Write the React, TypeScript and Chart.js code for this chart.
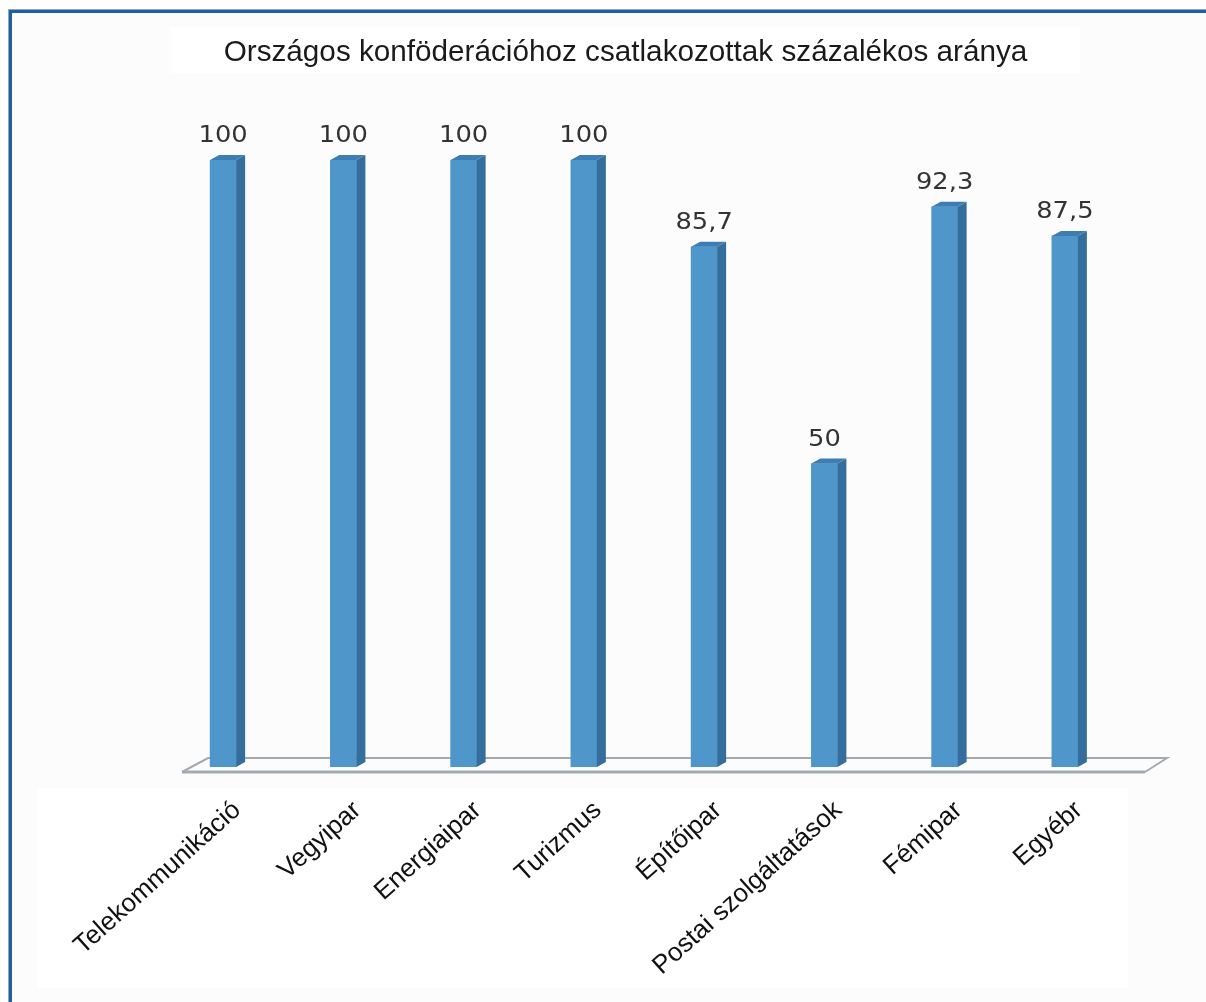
import React, { useEffect, useRef } from "react";
import { Chart, registerables } from "chart.js";

Chart.register(...registerables);

const categories = [
  "Telekommunikáció",
  "Vegyipar",
  "Energiaipar",
  "Turizmus",
  "Építőipar",
  "Postai szolgáltatások",
  "Fémipar",
  "Egyébr",
];
const values = [100, 100, 100, 100, 85.7, 50, 92.3, 87.5];
const titleText = "Országos konföderációhoz csatlakozottak százalékos aránya";

const FRONT = "#4f96ca";
const SIDE = "#356e9c";
const TOPC = "#3e7db3";
const DX = 9;
const DY = 5;

const fmt = (v: number) => String(v).replace(".", ",");

const pagePlugin = {
  id: "page",
  beforeDraw(chart: any) {
    const { ctx, width, height, chartArea } = chart;
    ctx.save();
    ctx.fillStyle = "#ffffff";
    ctx.fillRect(0, 0, width, height);
    ctx.fillStyle = "#fcfcfc";
    ctx.fillRect(11, 12, width, height);
    ctx.fillStyle = "#ffffff";
    ctx.fillRect(170, 27, 910, 46);
    ctx.fillRect(38, chartArea.bottom + 21, 1090, 200);
    ctx.strokeStyle = "#9aa3aa";
    ctx.lineWidth = 1;
    ctx.strokeRect(8.5, 9.5, width + 20, height + 20);
    ctx.strokeStyle = "#1d5fa9";
    ctx.lineWidth = 3;
    ctx.strokeRect(10.5, 11.5, width + 20, height + 20);
    ctx.restore();
  },
  beforeDatasetsDraw(chart: any) {
    const { ctx, chartArea } = chart;
    const { left, right, bottom } = chartArea;
    ctx.save();
    ctx.strokeStyle = "#a3abb0";
    ctx.lineJoin = "miter";
    ctx.lineWidth = 2;
    ctx.beginPath();
    ctx.moveTo(left + 19, bottom + 5);
    ctx.lineTo(left + 45, bottom - 9);
    ctx.lineTo(right + 42, bottom - 9);
    ctx.lineTo(right + 20, bottom + 5);
    ctx.stroke();
    ctx.lineWidth = 3;
    ctx.beginPath();
    ctx.moveTo(left + 19, bottom + 5);
    ctx.lineTo(right + 20, bottom + 5);
    ctx.stroke();
    ctx.restore();
  },
  afterDatasetsDraw(chart: any) {
    const { ctx } = chart;
    const meta = chart.getDatasetMeta(0);
    ctx.save();
    meta.data.forEach((bar: any, i: number) => {
      const { x, y, base, width } = bar.getProps(["x", "y", "base", "width"], true);
      const l = x - width / 2;
      const r = x + width / 2;
      ctx.fillStyle = SIDE;
      ctx.beginPath();
      ctx.moveTo(r, y);
      ctx.lineTo(r + DX, y - DY);
      ctx.lineTo(r + DX, base - DY);
      ctx.lineTo(r, base);
      ctx.closePath();
      ctx.fill();
      ctx.fillStyle = TOPC;
      ctx.beginPath();
      ctx.moveTo(l, y);
      ctx.lineTo(l + DX, y - DY);
      ctx.lineTo(r + DX, y - DY);
      ctx.lineTo(r, y);
      ctx.closePath();
      ctx.fill();
      ctx.save();
      ctx.translate(x, y - 18);
      ctx.scale(1.12, 1);
      ctx.fillStyle = "#333333";
      ctx.font = "23px 'DejaVu Sans'";
      ctx.textAlign = "center";
      ctx.textBaseline = "alphabetic";
      ctx.fillText(fmt(values[i]), 0, 0);
      ctx.restore();
    });
    ctx.restore();
  },
};

export default function App() {
  const ref = useRef<HTMLCanvasElement | null>(null);
  useEffect(() => {
    if (!ref.current) return;
    const chart = new Chart(ref.current, {
      type: "bar",
      data: {
        labels: categories,
        datasets: [
          {
            data: values,
            backgroundColor: FRONT,
            borderWidth: 0,
            barThickness: 26,
          },
        ],
      },
      options: {
        animation: false,
        responsive: false,
        devicePixelRatio: 1,
        layout: { padding: { left: 126, right: 81, top: 0, bottom: 0 } },
        plugins: {
          legend: { display: false },
          tooltip: { enabled: false },
          title: {
            display: true,
            text: titleText,
            color: "#1a1a1a",
            font: { family: "'Liberation Sans', Arial, sans-serif", size: 29.7, weight: "normal" },
            padding: { top: 35, bottom: 89.4 },
          },
        },
        scales: {
          x: {
            grid: { display: false },
            border: { display: false },
            afterFit: (scale: any) => {
              scale.height = 235;
            },
            ticks: {
              autoSkip: false,
              minRotation: 42,
              maxRotation: 42,
              padding: 20,
              labelOffset: 14,
              color: "#111111",
              font: { family: "'Liberation Sans', Arial, sans-serif", size: 26 },
            },
          },
          y: {
            display: true,
            min: 0,
            max: 100,
            grid: { display: false },
            border: { display: false },
            ticks: { display: false },
            afterFit: (scale: any) => {
              scale.width = 37;
            },
          },
        },
      },
      plugins: [pagePlugin],
    });
    return () => chart.destroy();
  }, []);
  return (
    <div style={{ position: "absolute", left: 0, top: 0, width: 1206, height: 1002 }}>
      <canvas ref={ref} width={1206} height={1002} />
    </div>
  );
}
